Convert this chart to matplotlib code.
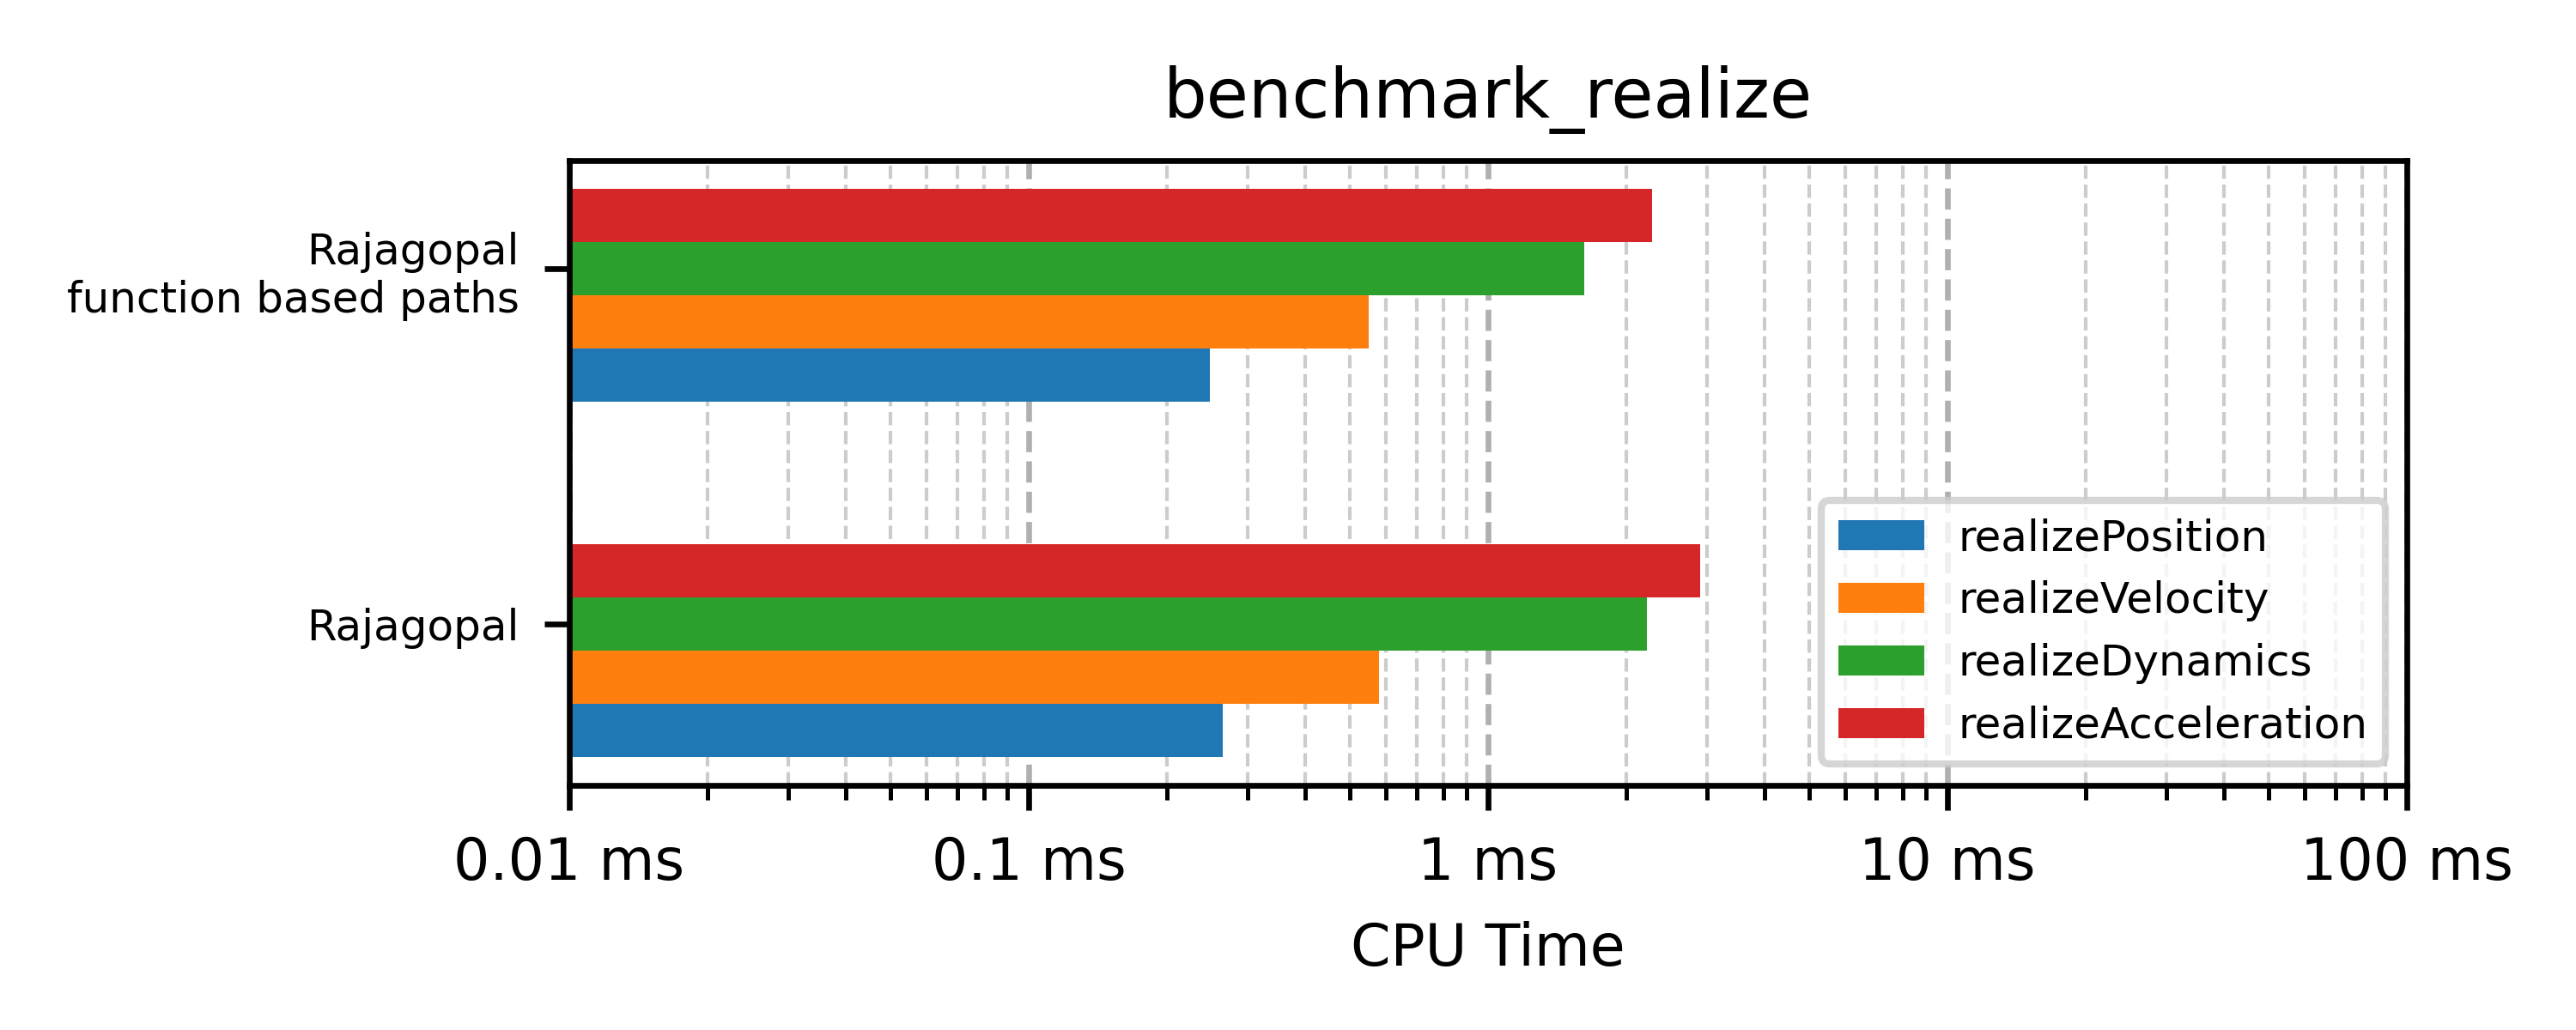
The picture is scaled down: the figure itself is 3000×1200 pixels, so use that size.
import matplotlib
matplotlib.use('Agg')
import matplotlib.pyplot as plt
import numpy as np
from matplotlib.ticker import FuncFormatter, LogLocator


FILE = 'out.png'

MODELS = ['Rajagopal', 'Rajagopal\nfunction based paths']
SERIES = ['realizePosition', 'realizeVelocity', 'realizeDynamics', 'realizeAcceleration']
COLORS = ['#1f77b4', '#ff7f0e', '#2ca02c', '#d62728']

# CPU time in ms, one list per series, same order as MODELS
REALIZE_POSITION = [0.265, 0.248]
REALIZE_VELOCITY = [0.580, 0.549]
REALIZE_DYNAMICS = [2.22, 1.62]
REALIZE_ACCELERATION = [2.89, 2.28]

BAR_HEIGHT = 0.15


def main():
    plt.rcParams['font.size'] = 8

    values = [REALIZE_POSITION, REALIZE_VELOCITY, REALIZE_DYNAMICS, REALIZE_ACCELERATION]
    y = np.arange(len(MODELS))

    fig, ax = plt.subplots(figsize=(5, 2), dpi=600)
    fig.subplots_adjust(left=0.221, right=0.9343, bottom=0.2375, top=0.8442)

    # Grouped horizontal bars, first series at the bottom of each group
    n = len(SERIES)
    for i, (name, vals, color) in enumerate(zip(SERIES, values, COLORS)):
        offset = (i - (n - 1) / 2) * BAR_HEIGHT
        ax.barh(y + offset, vals, height=BAR_HEIGHT, color=color, label=name)

    ax.set_xscale('log')
    ax.set_xlim(0.01, 100)
    ax.xaxis.set_major_locator(LogLocator(base=10))
    ax.xaxis.set_minor_locator(LogLocator(base=10, subs=np.arange(2, 10)))
    ax.xaxis.set_major_formatter(FuncFormatter(lambda v, _: f'{v:g} ms'))

    # Tick sits half a bar above the group centre, as in the original
    ax.set_yticks(y + BAR_HEIGHT / 2)
    ax.set_yticklabels(MODELS, fontsize=6)

    ax.set_axisbelow(True)
    ax.grid(which='major', axis='x', linestyle='--', color='#b0b0b0', linewidth=0.8)
    ax.grid(which='minor', axis='x', linestyle='--', color='#cccccc', linewidth=0.5)

    ax.set_xlabel('CPU Time')
    ax.set_title('benchmark_realize')
    ax.legend(loc='lower right', fontsize=6)

    fig.savefig(FILE)


if __name__ == '__main__':
    main()
